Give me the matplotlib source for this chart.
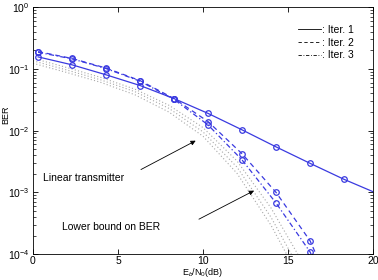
import matplotlib
matplotlib.use("Agg")
import matplotlib.pyplot as plt
from matplotlib.lines import Line2D
import numpy as np

plt.rcParams['font.family'] = ['Liberation Sans', 'DejaVu Sans']
plt.rcParams['mathtext.fontset'] = 'custom'
plt.rcParams['mathtext.rm'] = 'Liberation Sans'
plt.rcParams['mathtext.it'] = 'Liberation Sans:italic'

# Data
ebn0 = [0.3, 2.3, 4.3, 6.3, 8.3, 10.3, 12.3, 14.3, 16.3, 18.3, 20.3]
ber_iter1 = [0.156, 0.116, 0.080, 0.0537, 0.033, 0.019, 0.0103, 0.00546, 0.00296, 0.00163, 0.00095]
ber_iter2 = [0.19, 0.147, 0.1028, 0.0645, 0.033, 0.014, 0.00422, 0.00100, 0.000165, 0.0000095]
ber_iter3 = [0.185, 0.145, 0.1010, 0.0630, 0.032, 0.01237, 0.00335, 0.000674, 0.000109, 0.000006]

ebn0_bound = [0, 2, 4, 6, 8, 10, 12, 14, 16, 18]
bound_a = [10**v for v in [-0.83, -0.98, -1.14, -1.33, -1.59, -1.95, -2.49, -3.25, -4.20, -5.3]]
bound_b = [10**v for v in [-0.87, -1.02, -1.18, -1.37, -1.64, -2.02, -2.59, -3.40, -4.40, -5.5]]
bound_c = [10**v for v in [-0.91, -1.06, -1.22, -1.42, -1.70, -2.09, -2.69, -3.53, -4.55, -5.7]]

legend_labels = [': Iter. 1', ': Iter. 2', ': Iter. 3']

blue = '#3a3ae0'
gray = '#a8a8a8'

W, H = 378, 280
fig = plt.figure(figsize=(W / 100, H / 100), dpi=100)
left_px, right_px, top_px, bottom_px = 33, 373, 7, 258
ax = fig.add_axes([left_px / W, 1 - bottom_px / H, (right_px - left_px) / W, (bottom_px - top_px) / H])

for b in (bound_a, bound_b, bound_c):
    ax.plot(ebn0_bound, b, linestyle=(0, (1, 2)), color=gray, linewidth=0.8)

mk = dict(marker='o', markersize=4, markerfacecolor='none', markeredgecolor=blue,
          markeredgewidth=0.9, color=blue, linewidth=0.9)
ax.plot(ebn0, ber_iter1, linestyle='-', **mk)
ax.plot(ebn0[:len(ber_iter2)], ber_iter2, linestyle=(0, (4, 3)), **mk)
ax.plot(ebn0[:len(ber_iter3)], ber_iter3, linestyle=(0, (4, 2, 1, 2)), **mk)

ax.set_yscale('log')
ax.set_xlim(0, 20)
ax.set_ylim(1e-4, 1)
ax.set_xticks([0, 5, 10, 15, 20])
ax.tick_params(which='both', direction='in', top=True, right=True, labelsize=7.5)
ax.tick_params(axis='x', pad=1)
ax.tick_params(axis='y', pad=2.5)
ax.tick_params(which='major', length=3.5, width=0.6)
ax.tick_params(which='minor', length=2, width=0.5)
for s in ax.spines.values():
    s.set_linewidth(0.6)

ax.set_xlabel(r'E$_b$/N$_0$(dB)', fontsize=6.5)
ax.set_ylabel('BER', fontsize=6.5)
ax.xaxis.set_label_coords(0.5, -0.047)
ax.yaxis.set_label_coords(-0.074, 0.5)

ax.text(0.59, 1.69e-3, 'Linear transmitter', fontsize=7.5, va='center', ha='left')
ax.text(1.7, 2.72e-4, 'Lower bound on BER', fontsize=7.5, va='center', ha='left')
arrow = dict(arrowstyle='-|>', color='black', linewidth=0.6, mutation_scale=7, shrinkA=0, shrinkB=0)
ax.annotate('', xy=(9.57, 6.88e-3), xytext=(6.35, 2.35e-3), arrowprops=arrow)
ax.annotate('', xy=(13.0, 1.07e-3), xytext=(9.76, 3.7e-4), arrowprops=arrow)

handles = [Line2D([], [], color='black', linewidth=0.6, linestyle='-'),
           Line2D([], [], color='black', linewidth=0.6, linestyle=(0, (4, 3))),
           Line2D([], [], color='black', linewidth=0.6, linestyle=(0, (4, 2, 1, 2)))]
ax.legend(handles, legend_labels, loc='upper right', frameon=False, fontsize=7.5,
          handlelength=2.2, handletextpad=0.1, labelspacing=0.25,
          bbox_to_anchor=(0.97, 0.965))

# Fit axis labels inside the canvas without touching tick labels
for _ in range(3):
    fig.canvas.draw()
    r = fig.canvas.get_renderer()
    xl = ax.xaxis.label
    bb = xl.get_window_extent(r)
    tick_bottom = min(t.get_window_extent(r).y0 for t in ax.get_xticklabels())
    need = 1.0 + (bb.y1 - bb.y0) - (tick_bottom - 0.3)
    if need > 0.05:
        bottom_px -= need
        ax.set_position([left_px / W, 1 - bottom_px / H, (right_px - left_px) / W,
                         (bottom_px - top_px) / H])
        continue
    break

fig.canvas.draw()
r = fig.canvas.get_renderer()
axbb = ax.get_window_extent(r)
xl = ax.xaxis.label
bb = xl.get_window_extent(r)
tick_bottom = min(t.get_window_extent(r).y0 for t in ax.get_xticklabels())
dy = (tick_bottom - 0.3) - bb.y1
ax.xaxis.set_label_coords(0.5, -0.047 + dy / axbb.height)

# y label: keep at the left edge, and just above the 10^-2 tick label
yl = ax.yaxis.label
bb = yl.get_window_extent(r)
dx = 1.2 - bb.x0
ylab_y = 0.5
ytl = [t for t in ax.get_yticklabels() if t.get_visible() and t.get_text()]
overl = [t.get_window_extent(r) for t in ytl]
overl = [tb for tb in overl if tb.y1 > bb.y0 and tb.y0 < bb.y1]
if overl:
    tb = max(overl, key=lambda b_: b_.y1)
    shift_up = (tb.y1 + 1.0) - bb.y0
    ylab_y = 0.5 + shift_up / axbb.height
ax.yaxis.set_label_coords(-0.074 + dx / axbb.width, ylab_y)

fig.savefig('out.png', dpi=100)
